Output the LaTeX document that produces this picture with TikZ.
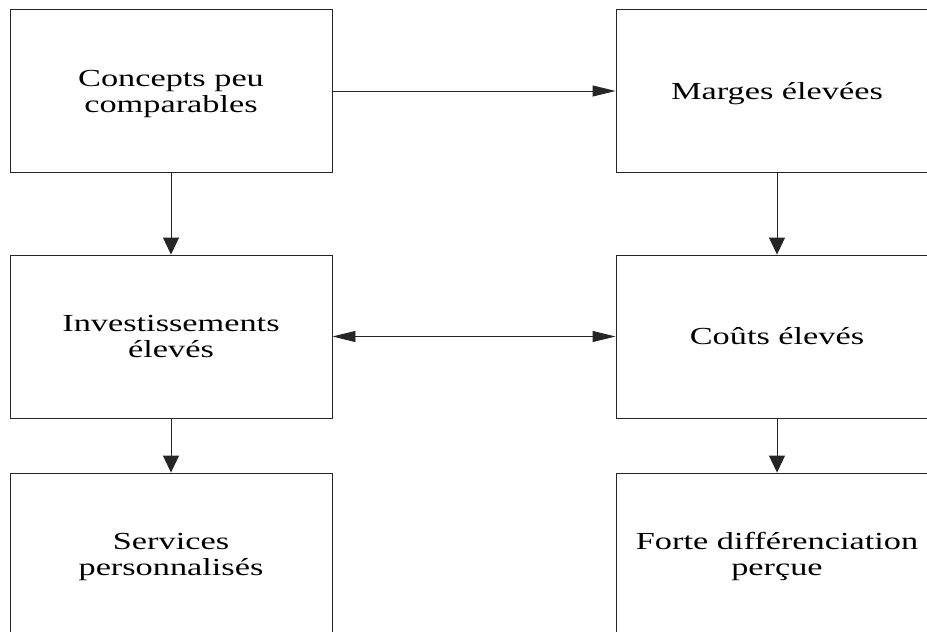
\documentclass[tikz,border=0pt]{standalone}
\usepackage{fontspec}
\setmainfont{Liberation Serif}
\usepackage{graphicx}
\usetikzlibrary{arrows.meta}
\newcommand{\boxtext}[1]{\raisebox{-3pt}[\height][\depth]{\scalebox{1.40}[1]{\begin{tabular}{@{}c@{}}#1\end{tabular}}}}
\tikzset{
  blockbox/.style={draw=black!85, line width=0.9pt, rectangle, minimum width=322pt, minimum height=163pt, inner sep=0pt,
    font=\fontsize{24.5}{26}\selectfont},
  conn/.style={draw=black!85, line width=0.9pt},
  htip/.style={-{Triangle[length=23pt,width=11pt]}},
  hboth/.style={{Triangle[length=23pt,width=11pt]}-{Triangle[length=23pt,width=11pt]}},
  vtip/.style={-{Triangle[length=17pt,width=16pt]}}
}
\begin{document}
\begin{tikzpicture}[x=1pt,y=-1pt]
\useasboundingbox (0,0) rectangle (927,632);
\clip (0,0) rectangle (927,632);
\fill[white] (0,0) rectangle (927,632);
\node[blockbox] (A) at (171,91) {\boxtext{Concepts peu\\comparables}};
\node[blockbox] (B) at (777,91) {\boxtext{Marges élevées}};
\node[blockbox] (C) at (171,336.5) {\boxtext{Investissements\\élevés}};
\node[blockbox] (D) at (777,336.5) {\boxtext{Coûts élevés}};
\node[blockbox] (E) at (171,554.5) {\boxtext{Services\\personnalisés}};
\node[blockbox] (F) at (777,554.5) {\boxtext{Forte différenciation\\perçue}};
\draw[conn,htip] (A.east) -- (B.west);
\draw[conn,hboth] (C.east) -- (D.west);
\draw[conn,vtip] (A.south) -- (C.north);
\draw[conn,vtip] (B.south) -- (D.north);
\draw[conn,vtip] (C.south) -- (E.north);
\draw[conn,vtip] (D.south) -- (F.north);
\end{tikzpicture}
\end{document}
